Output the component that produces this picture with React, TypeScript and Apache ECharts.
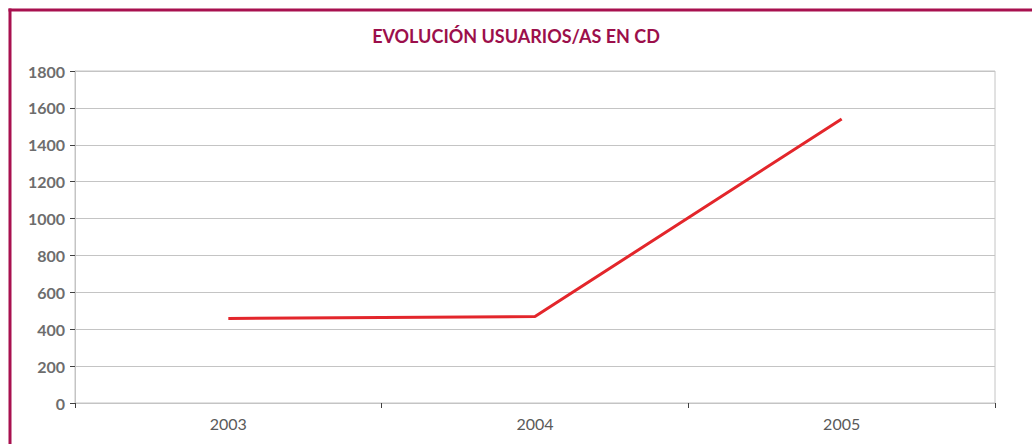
import React, { useEffect, useRef } from "react";
import * as echarts from "echarts";

const titleText = "EVOLUCIÓN USUARIOS/AS EN CD";
const years = ["2003", "2004", "2005"];
const usuarios = [458, 469, 1540];

export default function App() {
  const ref = useRef<HTMLDivElement>(null);
  useEffect(() => {
    if (!ref.current) return;
    const chart = echarts.init(ref.current, null, { renderer: "svg" });
    chart.setOption({
      animation: false,
      backgroundColor: "#ffffff",
      title: {
        text: titleText,
        left: "center",
        top: 22,
        textStyle: {
          fontFamily: "Lato",
          fontSize: 18,
          fontWeight: "bold",
          color: "#9c0f4b",
        },
      },
      graphic: [
        {
          type: "line",
          shape: { x1: 8.5, y1: 10, x2: 1032, y2: 10 },
          style: { stroke: "#a8104f", lineWidth: 3 },
        },
        {
          type: "line",
          shape: { x1: 10, y1: 8.5, x2: 10, y2: 444 },
          style: { stroke: "#a8104f", lineWidth: 3 },
        },
      ],
      grid: {
        left: 75,
        right: 37,
        top: 71,
        bottom: 41,
        show: true,
        borderColor: "#c4c4c4",
        borderWidth: 1,
      },
      xAxis: {
        type: "category",
        data: years,
        boundaryGap: true,
        axisLine: { lineStyle: { color: "#c4c4c4" } },
        axisTick: { show: true, length: 5, lineStyle: { color: "#404040" } },
        axisLabel: {
          fontFamily: "Lato",
          fontSize: 16,
          color: "#5a5a5a",
          margin: 12,
        },
        splitLine: { show: false },
      },
      yAxis: {
        type: "value",
        min: 0,
        max: 1800,
        interval: 200,
        axisLine: { show: true, lineStyle: { color: "#c4c4c4" } },
        axisTick: { show: true, length: 5, lineStyle: { color: "#404040" } },
        axisLabel: {
          fontFamily: "Lato",
          fontSize: 16,
          fontWeight: "bold",
          color: "#6d6d6d",
          margin: 10,
          formatter: (v: number) => String(v),
        },
        splitLine: { lineStyle: { color: "#c4c4c4" } },
      },
      series: [
        {
          type: "line",
          data: usuarios,
          symbol: "none",
          lineStyle: { color: "#e3262b", width: 3 },
        },
      ],
    });
    return () => chart.dispose();
  }, []);
  return (
    <div
      ref={ref}
      style={{ position: "fixed", left: 0, top: 0, width: 1032, height: 444 }}
    />
  );
}
